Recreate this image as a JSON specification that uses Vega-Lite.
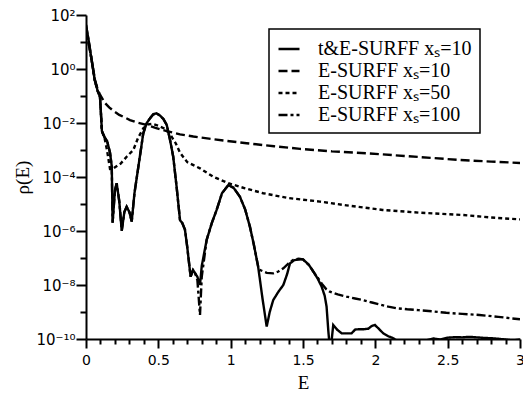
{
  "$schema": "https://vega.github.io/schema/vega-lite/v6.json",
  "autosize": {"type": "none"},
  "padding": {"left": 86, "top": 15, "right": 3, "bottom": 55},
  "width": 434,
  "height": 324,
  "background": "white",
  "config": {
    "view": {"stroke": null},
    "axis": {
      "domainColor": "black", "domainWidth": 2, "tickColor": "black", "tickWidth": 2,
      "labelFont": "DejaVu Sans", "labelFontSize": 14, "labelColor": "black",
      "titleFont": "Liberation Serif", "titleFontSize": 19, "titleFontWeight": "normal", "titleColor": "black",
      "grid": false, "labelOverlap": false, "labelBound": false, "labelFlush": false
    }
  },
  "data": {"values": [
    {"s": "t&E-SURFF xₛ=10", "E": 0.0, "r": 42.7},
    {"s": "t&E-SURFF xₛ=10", "E": 0.02, "r": 10},
    {"s": "t&E-SURFF xₛ=10", "E": 0.04, "r": 2.0},
    {"s": "t&E-SURFF xₛ=10", "E": 0.06, "r": 0.398},
    {"s": "t&E-SURFF xₛ=10", "E": 0.08, "r": 0.158},
    {"s": "t&E-SURFF xₛ=10", "E": 0.097, "r": 0.0912},
    {"s": "t&E-SURFF xₛ=10", "E": 0.11, "r": 5.01e-3},
    {"s": "t&E-SURFF xₛ=10", "E": 0.13, "r": 2.82e-3},
    {"s": "t&E-SURFF xₛ=10", "E": 0.145, "r": 2.24e-3},
    {"s": "t&E-SURFF xₛ=10", "E": 0.166, "r": 7.94e-4},
    {"s": "t&E-SURFF xₛ=10", "E": 0.178, "r": 2.51e-4},
    {"s": "t&E-SURFF xₛ=10", "E": 0.184, "r": 2.04e-6},
    {"s": "t&E-SURFF xₛ=10", "E": 0.2, "r": 3.16e-5},
    {"s": "t&E-SURFF xₛ=10", "E": 0.212, "r": 5.89e-5},
    {"s": "t&E-SURFF xₛ=10", "E": 0.23, "r": 1.26e-5},
    {"s": "t&E-SURFF xₛ=10", "E": 0.247, "r": 1.02e-6},
    {"s": "t&E-SURFF xₛ=10", "E": 0.265, "r": 5.01e-6},
    {"s": "t&E-SURFF xₛ=10", "E": 0.281, "r": 7.94e-6},
    {"s": "t&E-SURFF xₛ=10", "E": 0.3, "r": 5.01e-6},
    {"s": "t&E-SURFF xₛ=10", "E": 0.316, "r": 2.24e-6},
    {"s": "t&E-SURFF xₛ=10", "E": 0.335, "r": 2.51e-5},
    {"s": "t&E-SURFF xₛ=10", "E": 0.362, "r": 2.40e-4},
    {"s": "t&E-SURFF xₛ=10", "E": 0.396, "r": 4.17e-3},
    {"s": "t&E-SURFF xₛ=10", "E": 0.42, "r": 1.0e-2},
    {"s": "t&E-SURFF xₛ=10", "E": 0.442, "r": 1.48e-2},
    {"s": "t&E-SURFF xₛ=10", "E": 0.465, "r": 2.09e-2},
    {"s": "t&E-SURFF xₛ=10", "E": 0.488, "r": 2.29e-2},
    {"s": "t&E-SURFF xₛ=10", "E": 0.51, "r": 1.91e-2},
    {"s": "t&E-SURFF xₛ=10", "E": 0.535, "r": 1.41e-2},
    {"s": "t&E-SURFF xₛ=10", "E": 0.558, "r": 8.51e-3},
    {"s": "t&E-SURFF xₛ=10", "E": 0.58, "r": 2.51e-3},
    {"s": "t&E-SURFF xₛ=10", "E": 0.603, "r": 5.62e-4},
    {"s": "t&E-SURFF xₛ=10", "E": 0.625, "r": 5.01e-5},
    {"s": "t&E-SURFF xₛ=10", "E": 0.65, "r": 2.51e-6},
    {"s": "t&E-SURFF xₛ=10", "E": 0.665, "r": 2.0e-6},
    {"s": "t&E-SURFF xₛ=10", "E": 0.684, "r": 1.12e-6},
    {"s": "t&E-SURFF xₛ=10", "E": 0.70, "r": 2.51e-7},
    {"s": "t&E-SURFF xₛ=10", "E": 0.723, "r": 2.04e-8},
    {"s": "t&E-SURFF xₛ=10", "E": 0.74, "r": 3.55e-8},
    {"s": "t&E-SURFF xₛ=10", "E": 0.753, "r": 2.82e-8},
    {"s": "t&E-SURFF xₛ=10", "E": 0.77, "r": 2.0e-8},
    {"s": "t&E-SURFF xₛ=10", "E": 0.788, "r": 1.0e-8},
    {"s": "t&E-SURFF xₛ=10", "E": 0.80, "r": 5.01e-8},
    {"s": "t&E-SURFF xₛ=10", "E": 0.834, "r": 4.68e-7},
    {"s": "t&E-SURFF xₛ=10", "E": 0.87, "r": 2.0e-6},
    {"s": "t&E-SURFF xₛ=10", "E": 0.903, "r": 6.03e-6},
    {"s": "t&E-SURFF xₛ=10", "E": 0.94, "r": 2.51e-5},
    {"s": "t&E-SURFF xₛ=10", "E": 0.984, "r": 5.01e-5},
    {"s": "t&E-SURFF xₛ=10", "E": 1.02, "r": 3.98e-5},
    {"s": "t&E-SURFF xₛ=10", "E": 1.064, "r": 1.86e-5},
    {"s": "t&E-SURFF xₛ=10", "E": 1.10, "r": 6.31e-6},
    {"s": "t&E-SURFF xₛ=10", "E": 1.133, "r": 1.45e-6},
    {"s": "t&E-SURFF xₛ=10", "E": 1.16, "r": 3.16e-7},
    {"s": "t&E-SURFF xₛ=10", "E": 1.19, "r": 4.79e-8},
    {"s": "t&E-SURFF xₛ=10", "E": 1.22, "r": 3.16e-9},
    {"s": "t&E-SURFF xₛ=10", "E": 1.249, "r": 2.88e-10},
    {"s": "t&E-SURFF xₛ=10", "E": 1.27, "r": 1.0e-9},
    {"s": "t&E-SURFF xₛ=10", "E": 1.294, "r": 2.75e-9},
    {"s": "t&E-SURFF xₛ=10", "E": 1.33, "r": 5.62e-9},
    {"s": "t&E-SURFF xₛ=10", "E": 1.364, "r": 1.0e-8},
    {"s": "t&E-SURFF xₛ=10", "E": 1.39, "r": 2.51e-8},
    {"s": "t&E-SURFF xₛ=10", "E": 1.41, "r": 6.31e-8},
    {"s": "t&E-SURFF xₛ=10", "E": 1.44, "r": 8.32e-8},
    {"s": "t&E-SURFF xₛ=10", "E": 1.479, "r": 8.91e-8},
    {"s": "t&E-SURFF xₛ=10", "E": 1.50, "r": 8.91e-8},
    {"s": "t&E-SURFF xₛ=10", "E": 1.54, "r": 5.62e-8},
    {"s": "t&E-SURFF xₛ=10", "E": 1.571, "r": 3.16e-8},
    {"s": "t&E-SURFF xₛ=10", "E": 1.60, "r": 1.78e-8},
    {"s": "t&E-SURFF xₛ=10", "E": 1.629, "r": 8.71e-9},
    {"s": "t&E-SURFF xₛ=10", "E": 1.65, "r": 3.98e-9},
    {"s": "t&E-SURFF xₛ=10", "E": 1.663, "r": 1.58e-9},
    {"s": "t&E-SURFF xₛ=10", "E": 1.675, "r": 2.0e-10},
    {"s": "t&E-SURFF xₛ=10", "E": 1.685, "r": 5.01e-11},
    {"s": "t&E-SURFF xₛ=10", "E": 1.695, "r": 6.31e-11},
    {"s": "t&E-SURFF xₛ=10", "E": 1.709, "r": 3.31e-10},
    {"s": "t&E-SURFF xₛ=10", "E": 1.735, "r": 2.24e-10},
    {"s": "t&E-SURFF xₛ=10", "E": 1.767, "r": 1.62e-10},
    {"s": "t&E-SURFF xₛ=10", "E": 1.80, "r": 1.62e-10},
    {"s": "t&E-SURFF xₛ=10", "E": 1.836, "r": 1.62e-10},
    {"s": "t&E-SURFF xₛ=10", "E": 1.86, "r": 2.24e-10},
    {"s": "t&E-SURFF xₛ=10", "E": 1.882, "r": 2.29e-10},
    {"s": "t&E-SURFF xₛ=10", "E": 1.92, "r": 2.29e-10},
    {"s": "t&E-SURFF xₛ=10", "E": 1.951, "r": 2.40e-10},
    {"s": "t&E-SURFF xₛ=10", "E": 1.975, "r": 3.02e-10},
    {"s": "t&E-SURFF xₛ=10", "E": 1.997, "r": 3.31e-10},
    {"s": "t&E-SURFF xₛ=10", "E": 2.02, "r": 2.51e-10},
    {"s": "t&E-SURFF xₛ=10", "E": 2.055, "r": 1.62e-10},
    {"s": "t&E-SURFF xₛ=10", "E": 2.09, "r": 1.26e-10},
    {"s": "t&E-SURFF xₛ=10", "E": 2.124, "r": 1.07e-10},
    {"s": "t&E-SURFF xₛ=10", "E": 2.16, "r": 7.94e-11},
    {"s": "t&E-SURFF xₛ=10", "E": 2.25, "r": 6.31e-11},
    {"s": "t&E-SURFF xₛ=10", "E": 2.35, "r": 8.91e-11},
    {"s": "t&E-SURFF xₛ=10", "E": 2.40, "r": 1.05e-10},
    {"s": "t&E-SURFF xₛ=10", "E": 2.45, "r": 9.55e-11},
    {"s": "t&E-SURFF xₛ=10", "E": 2.50, "r": 1.12e-10},
    {"s": "t&E-SURFF xₛ=10", "E": 2.55, "r": 1.17e-10},
    {"s": "t&E-SURFF xₛ=10", "E": 2.60, "r": 1.15e-10},
    {"s": "t&E-SURFF xₛ=10", "E": 2.65, "r": 1.20e-10},
    {"s": "t&E-SURFF xₛ=10", "E": 2.70, "r": 1.15e-10},
    {"s": "t&E-SURFF xₛ=10", "E": 2.75, "r": 1.10e-10},
    {"s": "t&E-SURFF xₛ=10", "E": 2.80, "r": 1.07e-10},
    {"s": "t&E-SURFF xₛ=10", "E": 2.85, "r": 1.02e-10},
    {"s": "t&E-SURFF xₛ=10", "E": 2.90, "r": 9.55e-11},
    {"s": "t&E-SURFF xₛ=10", "E": 2.95, "r": 8.91e-11},
    {"s": "t&E-SURFF xₛ=10", "E": 3.0, "r": 9.55e-11},

    {"s": "E-SURFF xₛ=10", "E": 0.0, "r": 31.6},
    {"s": "E-SURFF xₛ=10", "E": 0.02, "r": 7.94},
    {"s": "E-SURFF xₛ=10", "E": 0.04, "r": 2.0},
    {"s": "E-SURFF xₛ=10", "E": 0.062, "r": 0.398},
    {"s": "E-SURFF xₛ=10", "E": 0.08, "r": 0.178},
    {"s": "E-SURFF xₛ=10", "E": 0.097, "r": 0.112},
    {"s": "E-SURFF xₛ=10", "E": 0.13, "r": 5.62e-2},
    {"s": "E-SURFF xₛ=10", "E": 0.16, "r": 3.80e-2},
    {"s": "E-SURFF xₛ=10", "E": 0.19, "r": 2.82e-2},
    {"s": "E-SURFF xₛ=10", "E": 0.23, "r": 2.0e-2},
    {"s": "E-SURFF xₛ=10", "E": 0.27, "r": 1.58e-2},
    {"s": "E-SURFF xₛ=10", "E": 0.304, "r": 1.29e-2},
    {"s": "E-SURFF xₛ=10", "E": 0.36, "r": 1.02e-2},
    {"s": "E-SURFF xₛ=10", "E": 0.419, "r": 8.51e-3},
    {"s": "E-SURFF xₛ=10", "E": 0.48, "r": 6.61e-3},
    {"s": "E-SURFF xₛ=10", "E": 0.558, "r": 5.01e-3},
    {"s": "E-SURFF xₛ=10", "E": 0.65, "r": 3.80e-3},
    {"s": "E-SURFF xₛ=10", "E": 0.742, "r": 3.16e-3},
    {"s": "E-SURFF xₛ=10", "E": 0.85, "r": 2.63e-3},
    {"s": "E-SURFF xₛ=10", "E": 0.95, "r": 2.24e-3},
    {"s": "E-SURFF xₛ=10", "E": 1.11, "r": 1.78e-3},
    {"s": "E-SURFF xₛ=10", "E": 1.3, "r": 1.38e-3},
    {"s": "E-SURFF xₛ=10", "E": 1.48, "r": 1.10e-3},
    {"s": "E-SURFF xₛ=10", "E": 1.7, "r": 8.91e-4},
    {"s": "E-SURFF xₛ=10", "E": 1.94, "r": 7.59e-4},
    {"s": "E-SURFF xₛ=10", "E": 2.2, "r": 6.03e-4},
    {"s": "E-SURFF xₛ=10", "E": 2.585, "r": 4.27e-4},
    {"s": "E-SURFF xₛ=10", "E": 2.8, "r": 3.72e-4},
    {"s": "E-SURFF xₛ=10", "E": 3.0, "r": 3.31e-4},

    {"s": "E-SURFF xₛ=50", "E": 0.0, "r": 31.6},
    {"s": "E-SURFF xₛ=50", "E": 0.02, "r": 7.94},
    {"s": "E-SURFF xₛ=50", "E": 0.04, "r": 2.0},
    {"s": "E-SURFF xₛ=50", "E": 0.06, "r": 0.398},
    {"s": "E-SURFF xₛ=50", "E": 0.08, "r": 0.158},
    {"s": "E-SURFF xₛ=50", "E": 0.097, "r": 0.0912},
    {"s": "E-SURFF xₛ=50", "E": 0.11, "r": 5.01e-3},
    {"s": "E-SURFF xₛ=50", "E": 0.13, "r": 2.51e-3},
    {"s": "E-SURFF xₛ=50", "E": 0.145, "r": 1.0e-3},
    {"s": "E-SURFF xₛ=50", "E": 0.166, "r": 2.0e-4},
    {"s": "E-SURFF xₛ=50", "E": 0.19, "r": 2.09e-4},
    {"s": "E-SURFF xₛ=50", "E": 0.24, "r": 3.16e-4},
    {"s": "E-SURFF xₛ=50", "E": 0.281, "r": 5.62e-4},
    {"s": "E-SURFF xₛ=50", "E": 0.327, "r": 1.0e-3},
    {"s": "E-SURFF xₛ=50", "E": 0.36, "r": 2.82e-3},
    {"s": "E-SURFF xₛ=50", "E": 0.396, "r": 6.31e-3},
    {"s": "E-SURFF xₛ=50", "E": 0.43, "r": 8.91e-3},
    {"s": "E-SURFF xₛ=50", "E": 0.46, "r": 9.33e-3},
    {"s": "E-SURFF xₛ=50", "E": 0.50, "r": 7.94e-3},
    {"s": "E-SURFF xₛ=50", "E": 0.54, "r": 6.31e-3},
    {"s": "E-SURFF xₛ=50", "E": 0.58, "r": 3.98e-3},
    {"s": "E-SURFF xₛ=50", "E": 0.62, "r": 1.78e-3},
    {"s": "E-SURFF xₛ=50", "E": 0.65, "r": 7.94e-4},
    {"s": "E-SURFF xₛ=50", "E": 0.70, "r": 3.55e-4},
    {"s": "E-SURFF xₛ=50", "E": 0.788, "r": 2.09e-4},
    {"s": "E-SURFF xₛ=50", "E": 0.88, "r": 1.02e-4},
    {"s": "E-SURFF xₛ=50", "E": 0.984, "r": 5.89e-5},
    {"s": "E-SURFF xₛ=50", "E": 1.1, "r": 3.80e-5},
    {"s": "E-SURFF xₛ=50", "E": 1.225, "r": 2.51e-5},
    {"s": "E-SURFF xₛ=50", "E": 1.4, "r": 1.66e-5},
    {"s": "E-SURFF xₛ=50", "E": 1.617, "r": 1.23e-5},
    {"s": "E-SURFF xₛ=50", "E": 1.8, "r": 8.91e-6},
    {"s": "E-SURFF xₛ=50", "E": 2.05, "r": 6.03e-6},
    {"s": "E-SURFF xₛ=50", "E": 2.3, "r": 4.79e-6},
    {"s": "E-SURFF xₛ=50", "E": 2.61, "r": 3.89e-6},
    {"s": "E-SURFF xₛ=50", "E": 2.8, "r": 3.16e-6},
    {"s": "E-SURFF xₛ=50", "E": 3.0, "r": 2.69e-6},

    {"s": "E-SURFF xₛ=100", "E": 0.0, "r": 42.7},
    {"s": "E-SURFF xₛ=100", "E": 0.02, "r": 10},
    {"s": "E-SURFF xₛ=100", "E": 0.04, "r": 2.0},
    {"s": "E-SURFF xₛ=100", "E": 0.06, "r": 0.398},
    {"s": "E-SURFF xₛ=100", "E": 0.08, "r": 0.158},
    {"s": "E-SURFF xₛ=100", "E": 0.097, "r": 0.0912},
    {"s": "E-SURFF xₛ=100", "E": 0.11, "r": 5.01e-3},
    {"s": "E-SURFF xₛ=100", "E": 0.13, "r": 2.82e-3},
    {"s": "E-SURFF xₛ=100", "E": 0.145, "r": 2.24e-3},
    {"s": "E-SURFF xₛ=100", "E": 0.166, "r": 7.94e-4},
    {"s": "E-SURFF xₛ=100", "E": 0.178, "r": 2.51e-4},
    {"s": "E-SURFF xₛ=100", "E": 0.184, "r": 2.04e-6},
    {"s": "E-SURFF xₛ=100", "E": 0.2, "r": 3.16e-5},
    {"s": "E-SURFF xₛ=100", "E": 0.212, "r": 5.89e-5},
    {"s": "E-SURFF xₛ=100", "E": 0.23, "r": 1.26e-5},
    {"s": "E-SURFF xₛ=100", "E": 0.247, "r": 1.02e-6},
    {"s": "E-SURFF xₛ=100", "E": 0.265, "r": 5.01e-6},
    {"s": "E-SURFF xₛ=100", "E": 0.281, "r": 7.94e-6},
    {"s": "E-SURFF xₛ=100", "E": 0.3, "r": 5.01e-6},
    {"s": "E-SURFF xₛ=100", "E": 0.316, "r": 2.24e-6},
    {"s": "E-SURFF xₛ=100", "E": 0.335, "r": 2.51e-5},
    {"s": "E-SURFF xₛ=100", "E": 0.362, "r": 2.40e-4},
    {"s": "E-SURFF xₛ=100", "E": 0.396, "r": 4.17e-3},
    {"s": "E-SURFF xₛ=100", "E": 0.42, "r": 1.0e-2},
    {"s": "E-SURFF xₛ=100", "E": 0.442, "r": 1.48e-2},
    {"s": "E-SURFF xₛ=100", "E": 0.465, "r": 2.09e-2},
    {"s": "E-SURFF xₛ=100", "E": 0.488, "r": 2.29e-2},
    {"s": "E-SURFF xₛ=100", "E": 0.51, "r": 1.91e-2},
    {"s": "E-SURFF xₛ=100", "E": 0.535, "r": 1.41e-2},
    {"s": "E-SURFF xₛ=100", "E": 0.558, "r": 8.51e-3},
    {"s": "E-SURFF xₛ=100", "E": 0.58, "r": 2.51e-3},
    {"s": "E-SURFF xₛ=100", "E": 0.603, "r": 5.62e-4},
    {"s": "E-SURFF xₛ=100", "E": 0.625, "r": 5.01e-5},
    {"s": "E-SURFF xₛ=100", "E": 0.65, "r": 2.51e-6},
    {"s": "E-SURFF xₛ=100", "E": 0.665, "r": 2.0e-6},
    {"s": "E-SURFF xₛ=100", "E": 0.684, "r": 1.12e-6},
    {"s": "E-SURFF xₛ=100", "E": 0.70, "r": 2.51e-7},
    {"s": "E-SURFF xₛ=100", "E": 0.723, "r": 2.04e-8},
    {"s": "E-SURFF xₛ=100", "E": 0.74, "r": 3.55e-8},
    {"s": "E-SURFF xₛ=100", "E": 0.753, "r": 2.82e-8},
    {"s": "E-SURFF xₛ=100", "E": 0.77, "r": 1.5e-8},
    {"s": "E-SURFF xₛ=100", "E": 0.788, "r": 7.76e-10},
    {"s": "E-SURFF xₛ=100", "E": 0.80, "r": 2.0e-8},
    {"s": "E-SURFF xₛ=100", "E": 0.834, "r": 4.68e-7},
    {"s": "E-SURFF xₛ=100", "E": 0.87, "r": 2.0e-6},
    {"s": "E-SURFF xₛ=100", "E": 0.903, "r": 6.03e-6},
    {"s": "E-SURFF xₛ=100", "E": 0.94, "r": 2.51e-5},
    {"s": "E-SURFF xₛ=100", "E": 0.984, "r": 5.01e-5},
    {"s": "E-SURFF xₛ=100", "E": 1.02, "r": 3.98e-5},
    {"s": "E-SURFF xₛ=100", "E": 1.064, "r": 1.86e-5},
    {"s": "E-SURFF xₛ=100", "E": 1.10, "r": 6.31e-6},
    {"s": "E-SURFF xₛ=100", "E": 1.133, "r": 1.45e-6},
    {"s": "E-SURFF xₛ=100", "E": 1.16, "r": 3.16e-7},
    {"s": "E-SURFF xₛ=100", "E": 1.19, "r": 4.79e-8},
    {"s": "E-SURFF xₛ=100", "E": 1.2, "r": 3.63e-8},
    {"s": "E-SURFF xₛ=100", "E": 1.25, "r": 2.82e-8},
    {"s": "E-SURFF xₛ=100", "E": 1.294, "r": 2.69e-8},
    {"s": "E-SURFF xₛ=100", "E": 1.33, "r": 3.16e-8},
    {"s": "E-SURFF xₛ=100", "E": 1.364, "r": 4.17e-8},
    {"s": "E-SURFF xₛ=100", "E": 1.40, "r": 6.31e-8},
    {"s": "E-SURFF xₛ=100", "E": 1.433, "r": 8.51e-8},
    {"s": "E-SURFF xₛ=100", "E": 1.47, "r": 9.33e-8},
    {"s": "E-SURFF xₛ=100", "E": 1.50, "r": 8.91e-8},
    {"s": "E-SURFF xₛ=100", "E": 1.54, "r": 5.62e-8},
    {"s": "E-SURFF xₛ=100", "E": 1.571, "r": 3.16e-8},
    {"s": "E-SURFF xₛ=100", "E": 1.60, "r": 1.91e-8},
    {"s": "E-SURFF xₛ=100", "E": 1.63, "r": 1.12e-8},
    {"s": "E-SURFF xₛ=100", "E": 1.66, "r": 7.08e-9},
    {"s": "E-SURFF xₛ=100", "E": 1.686, "r": 5.62e-9},
    {"s": "E-SURFF xₛ=100", "E": 1.74, "r": 4.47e-9},
    {"s": "E-SURFF xₛ=100", "E": 1.8, "r": 3.72e-9},
    {"s": "E-SURFF xₛ=100", "E": 1.86, "r": 3.16e-9},
    {"s": "E-SURFF xₛ=100", "E": 1.916, "r": 2.75e-9},
    {"s": "E-SURFF xₛ=100", "E": 1.97, "r": 2.29e-9},
    {"s": "E-SURFF xₛ=100", "E": 2.03, "r": 1.91e-9},
    {"s": "E-SURFF xₛ=100", "E": 2.09, "r": 1.58e-9},
    {"s": "E-SURFF xₛ=100", "E": 2.147, "r": 1.38e-9},
    {"s": "E-SURFF xₛ=100", "E": 2.22, "r": 1.26e-9},
    {"s": "E-SURFF xₛ=100", "E": 2.297, "r": 1.17e-9},
    {"s": "E-SURFF xₛ=100", "E": 2.4, "r": 1.05e-9},
    {"s": "E-SURFF xₛ=100", "E": 2.49, "r": 9.33e-10},
    {"s": "E-SURFF xₛ=100", "E": 2.6, "r": 8.51e-10},
    {"s": "E-SURFF xₛ=100", "E": 2.72, "r": 7.76e-10},
    {"s": "E-SURFF xₛ=100", "E": 2.85, "r": 6.61e-10},
    {"s": "E-SURFF xₛ=100", "E": 3.0, "r": 5.37e-10}
  ]},
  "mark": {"type": "line", "clip": true, "strokeWidth": 2.4, "color": "black"},
  "encoding": {
    "x": {
      "field": "E", "type": "quantitative",
      "scale": {"domain": [0, 3], "nice": false, "zero": false},
      "axis": {
        "title": "E", "titlePadding": 6,
        "values": [0, 0.1, 0.2, 0.3, 0.4, 0.5, 0.6, 0.7, 0.8, 0.9, 1, 1.1, 1.2, 1.3, 1.4, 1.5, 1.6, 1.7, 1.8, 1.9, 2, 2.1, 2.2, 2.3, 2.4, 2.5, 2.6, 2.7, 2.8, 2.9, 3],
        "labelExpr": "abs(datum.value*2 - round(datum.value*2)) < 0.001 ? format(datum.value, '~g') : ''",
        "tickSize": {"condition": {"test": "abs(datum.value*2 - round(datum.value*2)) < 0.001", "value": 9}, "value": 5},
        "labelPadding": 5
      }
    },
    "y": {
      "field": "r", "type": "quantitative",
      "scale": {"type": "log", "domain": [1e-10, 100], "nice": false},
      "axis": {
        "title": "ρ(E)", "titlePadding": 3, "labelFontSize": 15,
        "values": [1e-10, 1e-9, 1e-8, 1e-7, 1e-6, 1e-5, 1e-4, 1e-3, 1e-2, 1e-1, 1, 10, 100],
        "labelExpr": "round(log(datum.value)/LN10) == 2 ? '10²' : round(log(datum.value)/LN10) == 0 ? '10⁰' : round(log(datum.value)/LN10) == -2 ? '10⁻²' : round(log(datum.value)/LN10) == -4 ? '10⁻⁴' : round(log(datum.value)/LN10) == -6 ? '10⁻⁶' : round(log(datum.value)/LN10) == -8 ? '10⁻⁸' : round(log(datum.value)/LN10) == -10 ? '10⁻¹⁰' : ''",
        "tickSize": {"condition": {"test": "round(log(datum.value)/LN10) % 2 == 0", "value": 10}, "value": 6},
        "labelPadding": 1
      }
    },
    "strokeDash": {
      "field": "s", "type": "nominal",
      "scale": {
        "domain": ["t&E-SURFF xₛ=10", "E-SURFF xₛ=10", "E-SURFF xₛ=50", "E-SURFF xₛ=100"],
        "range": [[1, 0], [9, 4], [4, 3], [9, 3, 3, 3]]
      },
      "legend": {
        "title": null, "orient": "none", "legendX": 183, "legendY": 14,
        "strokeColor": "black", "fillColor": "white", "padding": 8,
        "labelFont": "Liberation Serif", "labelFontSize": 20, "labelColor": "black",
        "symbolType": "stroke", "symbolSize": 441, "symbolStrokeWidth": 2.5, "symbolStrokeColor": "black",
        "rowPadding": 0, "labelOffset": 17, "labelLimit": 300,
        "encode": {"legend": {"update": {"strokeWidth": {"value": 1.5}}}}
      }
    }
  }
}
